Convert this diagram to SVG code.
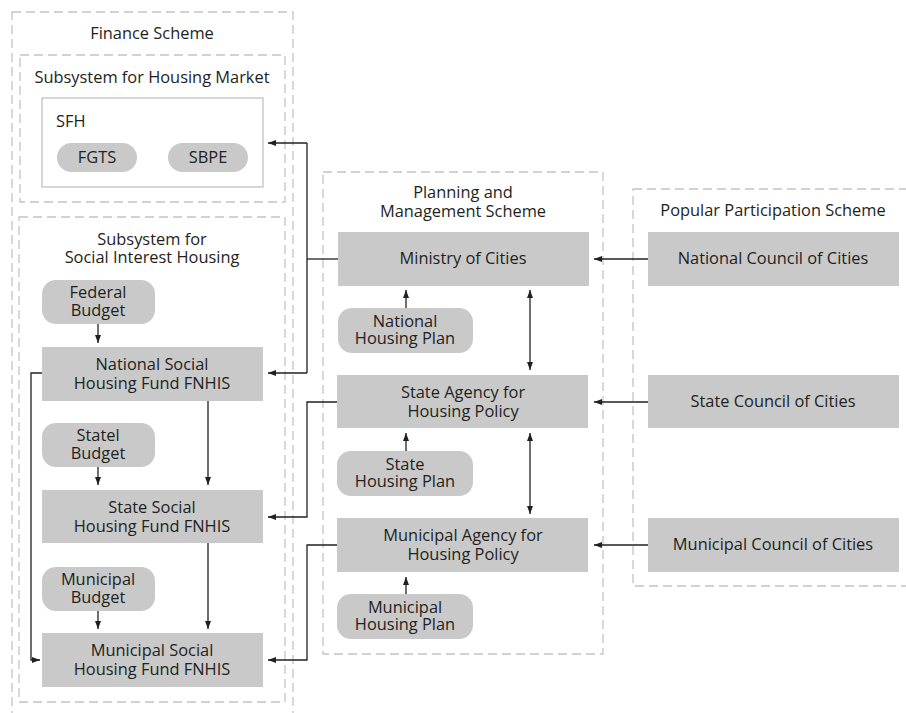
<svg xmlns="http://www.w3.org/2000/svg" width="906" height="713" viewBox="0 0 906 713">
<style>
text{font-family:"Open Sans","Noto Sans","Liberation Sans",sans-serif;font-size:16.4px;fill:#231f20;text-anchor:middle}
.scheme{fill:none;stroke:#c4c4c4;stroke-width:1.3;stroke-dasharray:9 5}
.box{fill:#c9c9c9}
.pill{fill:#c9c9c9}
.conn{fill:none;stroke:#231f20;stroke-width:1.3}
.l{text-anchor:start}
</style>
<defs>
<marker id="ah" markerUnits="userSpaceOnUse" viewBox="0 0 8 6" refX="8" refY="3" markerWidth="8" markerHeight="6" orient="auto-start-reverse">
<path d="M0,0 L8,3 L0,6 z" fill="#231f20"/>
</marker>
</defs>

<g id="finance-scheme">
<rect class="scheme" x="12" y="12" width="281" height="710"/>
<text x="152" y="39">Finance Scheme</text>
</g>
<g id="housing-market">
<rect class="scheme" x="20" y="55" width="265" height="147"/>
<text x="152" y="83">Subsystem for Housing Market</text>
</g>
<g id="sfh">
<rect x="42" y="98" width="221" height="89" fill="#fff" stroke="#bdbdbd" stroke-width="1.2"/>
<text class="l" x="56" y="127">SFH</text>
</g>
<g id="fgts">
<rect class="pill" x="57" y="143" width="80" height="29" rx="14.5"/>
<text x="97" y="163">FGTS</text>
</g>
<g id="sbpe">
<rect class="pill" x="168" y="143" width="80" height="29" rx="14.5"/>
<text x="208" y="163">SBPE</text>
</g>

<g id="social-housing">
<rect class="scheme" x="19" y="217" width="266" height="485"/>
<text x="152" y="245">Subsystem for</text>
<text x="152" y="263">Social Interest Housing</text>
</g>
<g id="federal-budget">
<rect class="pill" x="42" y="280" width="113" height="44" rx="14"/>
<text x="98" y="298">Federal</text>
<text x="98" y="316">Budget</text>
</g>
<g id="fnhis-national">
<rect class="box" x="42" y="347" width="221" height="54"/>
<text x="152" y="370">National Social</text>
<text x="152" y="389">Housing Fund FNHIS</text>
</g>
<g id="state-budget">
<rect class="pill" x="42" y="423" width="113" height="44" rx="14"/>
<text x="98" y="441">Statel</text>
<text x="98" y="459">Budget</text>
</g>
<g id="fnhis-state">
<rect class="box" x="42" y="490" width="221" height="53"/>
<text x="152" y="513">State Social</text>
<text x="152" y="532">Housing Fund FNHIS</text>
</g>
<g id="municipal-budget">
<rect class="pill" x="42" y="567" width="113" height="44" rx="14"/>
<text x="98" y="585">Municipal</text>
<text x="98" y="603">Budget</text>
</g>
<g id="fnhis-municipal">
<rect class="box" x="42" y="633" width="221" height="54"/>
<text x="152" y="656">Municipal Social</text>
<text x="152" y="675">Housing Fund FNHIS</text>
</g>

<g id="planning-scheme">
<rect class="scheme" x="323" y="172" width="280" height="482"/>
<text x="463" y="198">Planning and</text>
<text x="463" y="217">Management Scheme</text>
</g>
<g id="ministry">
<rect class="box" x="338" y="232" width="251" height="54"/>
<text x="463" y="264">Ministry of Cities</text>
</g>
<g id="national-plan">
<rect class="pill" x="338" y="308" width="135" height="45" rx="14"/>
<text x="405" y="327">National</text>
<text x="405" y="344">Housing Plan</text>
</g>
<g id="state-agency">
<rect class="box" x="337" y="375" width="251" height="53"/>
<text x="463" y="398">State Agency for</text>
<text x="463" y="417">Housing Policy</text>
</g>
<g id="state-plan">
<rect class="pill" x="337" y="451" width="136" height="45" rx="14"/>
<text x="405" y="470">State</text>
<text x="405" y="487">Housing Plan</text>
</g>
<g id="municipal-agency">
<rect class="box" x="337" y="518" width="251" height="54"/>
<text x="463" y="541">Municipal Agency for</text>
<text x="463" y="560">Housing Policy</text>
</g>
<g id="municipal-plan">
<rect class="pill" x="337" y="594" width="136" height="45" rx="14"/>
<text x="405" y="613">Municipal</text>
<text x="405" y="630">Housing Plan</text>
</g>

<g id="popular-scheme">
<rect class="scheme" x="633" y="189" width="290" height="397"/>
<text x="773" y="216">Popular Participation Scheme</text>
</g>
<g id="national-council">
<rect class="box" x="648" y="232" width="251" height="54"/>
<text x="773" y="264">National Council of Cities</text>
</g>
<g id="state-council">
<rect class="box" x="648" y="375" width="251" height="53"/>
<text x="773" y="407">State Council of Cities</text>
</g>
<g id="municipal-council">
<rect class="box" x="648" y="518" width="251" height="54"/>
<text x="773" y="550">Municipal Council of Cities</text>
</g>

<g id="connectors">
<path class="conn" d="M338,259 H307"/>
<path class="conn" d="M307,143 V373"/>
<path class="conn" d="M307,143 H268" marker-end="url(#ah)"/>
<path class="conn" d="M307,373 H268" marker-end="url(#ah)"/>
<path class="conn" d="M337,402 H307 V517 H268" marker-end="url(#ah)"/>
<path class="conn" d="M337,545 H307 V660 H268" marker-end="url(#ah)"/>
<path class="conn" d="M42,373 H31 V660 H40" marker-end="url(#ah)"/>
<path class="conn" d="M208,401 V485" marker-end="url(#ah)"/>
<path class="conn" d="M208,543 V629" marker-end="url(#ah)"/>
<path class="conn" d="M98,324 V343" marker-end="url(#ah)"/>
<path class="conn" d="M98,467 V485" marker-end="url(#ah)"/>
<path class="conn" d="M98,611 V629" marker-end="url(#ah)"/>
<path class="conn" d="M406,308 V290" marker-end="url(#ah)"/>
<path class="conn" d="M406,451 V433" marker-end="url(#ah)"/>
<path class="conn" d="M406,594 V577" marker-end="url(#ah)"/>
<path class="conn" d="M530,290 V370" marker-start="url(#ah)" marker-end="url(#ah)"/>
<path class="conn" d="M530,433 V514" marker-start="url(#ah)" marker-end="url(#ah)"/>
<path class="conn" d="M648,259 H594" marker-end="url(#ah)"/>
<path class="conn" d="M648,402 H594" marker-end="url(#ah)"/>
<path class="conn" d="M648,545 H594" marker-end="url(#ah)"/>
</g>
</svg>
